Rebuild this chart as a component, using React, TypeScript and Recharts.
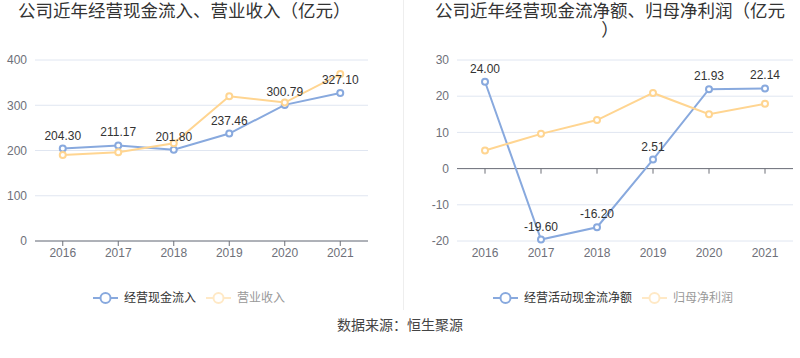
import { CartesianGrid, LabelList, Line, LineChart, ReferenceLine, XAxis, YAxis } from 'recharts'

const years = ['2016', '2017', '2018', '2019', '2020', '2021']
const cashInflow = [204.3, 211.17, 201.8, 237.46, 300.79, 327.1]
const revenue = [190, 196, 216, 320, 306, 369]
const netCashFlow = [24.0, -19.6, -16.2, 2.51, 21.93, 22.14]
const netProfit = [5.0, 9.6, 13.4, 20.9, 15.0, 17.9]
const leftTicks = [0, 100, 200, 300, 400]
const rightTicks = [-20, -10, 0, 10, 20, 30]

const BLUE = '#88A9DE'
const ORANGE = '#FFD591'
const AXIS = '#6E7079'
const GRID = '#E0E6F1'
const FONT = '"Liberation Sans", "Noto Sans CJK SC", sans-serif'

const leftData = years.map((year, i) => ({ year, a: cashInflow[i], b: revenue[i] }))
const rightData = years.map((year, i) => ({ year, a: netCashFlow[i], b: netProfit[i] }))

const dot = (color: string) => ({ r: 3, fill: '#fff', stroke: color, strokeWidth: 2 })
const tickStyle = { fill: AXIS, fontSize: 12, fontFamily: FONT }

function LegendIcon({ color }: { color: string }) {
  return (
    <svg width={25} height={14} style={{ marginRight: 6 }}>
      <line x1={0} y1={7} x2={25} y2={7} stroke={color} strokeWidth={2} />
      <circle cx={12.5} cy={7} r={5} fill="#fff" stroke={color} strokeWidth={2} />
    </svg>
  )
}

function ChartLegend({ left, items }: { left: number; items: { name: string; color: string; text: string }[] }) {
  return (
    <div
      style={{
        position: 'absolute',
        left,
        top: 290,
        display: 'flex',
        alignItems: 'center',
        fontSize: 12,
        fontFamily: FONT,
        lineHeight: '16px',
      }}
    >
      {items.map((item) => (
        <div key={item.name} style={{ display: 'flex', alignItems: 'center', marginRight: 10, color: item.text }}>
          <LegendIcon color={item.color} />
          {item.name}
        </div>
      ))}
    </div>
  )
}

export default function App() {
  return (
    <div
      style={{
        position: 'absolute',
        left: 0,
        top: 0,
        width: 800,
        height: 358,
        background: '#fff',
        fontFamily: FONT,
        overflow: 'hidden',
      }}
    >
      <div style={{ position: 'absolute', left: 18, top: 2, fontSize: 17.5, lineHeight: '19px', color: '#333' }}>
        公司近年经营现金流入、营业收入（亿元）
      </div>
      <div
        style={{
          position: 'absolute',
          left: 425,
          top: 2,
          width: 370,
          textAlign: 'center',
          fontSize: 17.5,
          lineHeight: '19px',
          color: '#333',
          whiteSpace: 'nowrap',
        }}
      >
        公司近年经营现金流净额、归母净利润（亿元
        <br />）
      </div>
      <div style={{ position: 'absolute', left: 403, top: 0, width: 1, height: 310, background: '#EEEEEE' }} />

      <div style={{ position: 'absolute', left: 0, top: 0 }}>
        <LineChart width={400} height={280} data={leftData} margin={{ top: 60, right: 32, bottom: 0, left: 0 }}>
          <CartesianGrid vertical={false} stroke={GRID} />
          <XAxis
            dataKey="year"
            scale="band"
            height={39}
            stroke={AXIS}
            tickSize={5}
            tickMargin={2}
            tick={tickStyle}
            interval={0}
          />
          <YAxis
            width={35}
            domain={[0, 400]}
            ticks={leftTicks}
            axisLine={false}
            tickLine={false}
            tickSize={0}
            tickMargin={8}
            tick={tickStyle}
          />
          <Line dataKey="a" stroke={BLUE} strokeWidth={2} dot={dot(BLUE)} isAnimationActive={false}>
            <LabelList
              dataKey="a"
              position="top"
              offset={9}
              formatter={(v: number) => v.toFixed(2)}
              style={{ fill: '#333', fontSize: 12, fontFamily: FONT }}
            />
          </Line>
          <Line dataKey="b" stroke={ORANGE} strokeWidth={2} dot={dot(ORANGE)} isAnimationActive={false} />
        </LineChart>
      </div>

      <div style={{ position: 'absolute', left: 400, top: 0 }}>
        <LineChart width={400} height={280} data={rightData} margin={{ top: 60, right: 7, bottom: 0, left: 0 }}>
          <CartesianGrid vertical={false} stroke={GRID} />
          <XAxis
            dataKey="year"
            scale="band"
            height={39}
            axisLine={false}
            tickLine={false}
            tickSize={0}
            tickMargin={7}
            tick={tickStyle}
            interval={0}
          />
          <YAxis
            width={57}
            domain={[-20, 30]}
            ticks={rightTicks}
            axisLine={false}
            tickLine={false}
            tickSize={0}
            tickMargin={8}
            tick={tickStyle}
          />
          <ReferenceLine y={0} stroke={AXIS} />
          {years.map((y) => (
            <ReferenceLine
              key={y}
              segment={[
                { x: y, y: 0 },
                { x: y, y: -1.4 },
              ]}
              stroke={AXIS}
            />
          ))}
          <Line dataKey="a" stroke={BLUE} strokeWidth={2} dot={dot(BLUE)} isAnimationActive={false}>
            <LabelList
              dataKey="a"
              position="top"
              offset={9}
              formatter={(v: number) => v.toFixed(2)}
              style={{ fill: '#333', fontSize: 12, fontFamily: FONT }}
            />
          </Line>
          <Line dataKey="b" stroke={ORANGE} strokeWidth={2} dot={dot(ORANGE)} isAnimationActive={false} />
        </LineChart>
      </div>

      <ChartLegend
        left={93}
        items={[
          { name: '经营现金流入', color: BLUE, text: '#333' },
          { name: '营业收入', color: '#FFE9C6', text: '#999' },
        ]}
      />
      <ChartLegend
        left={493}
        items={[
          { name: '经营活动现金流净额', color: BLUE, text: '#333' },
          { name: '归母净利润', color: '#FFE9C6', text: '#999' },
        ]}
      />

      <div
        style={{
          position: 'absolute',
          left: 0,
          top: 316,
          width: 800,
          textAlign: 'center',
          fontSize: 14,
          lineHeight: '18px',
          color: '#444',
        }}
      >
        数据来源：恒生聚源
      </div>
    </div>
  )
}
